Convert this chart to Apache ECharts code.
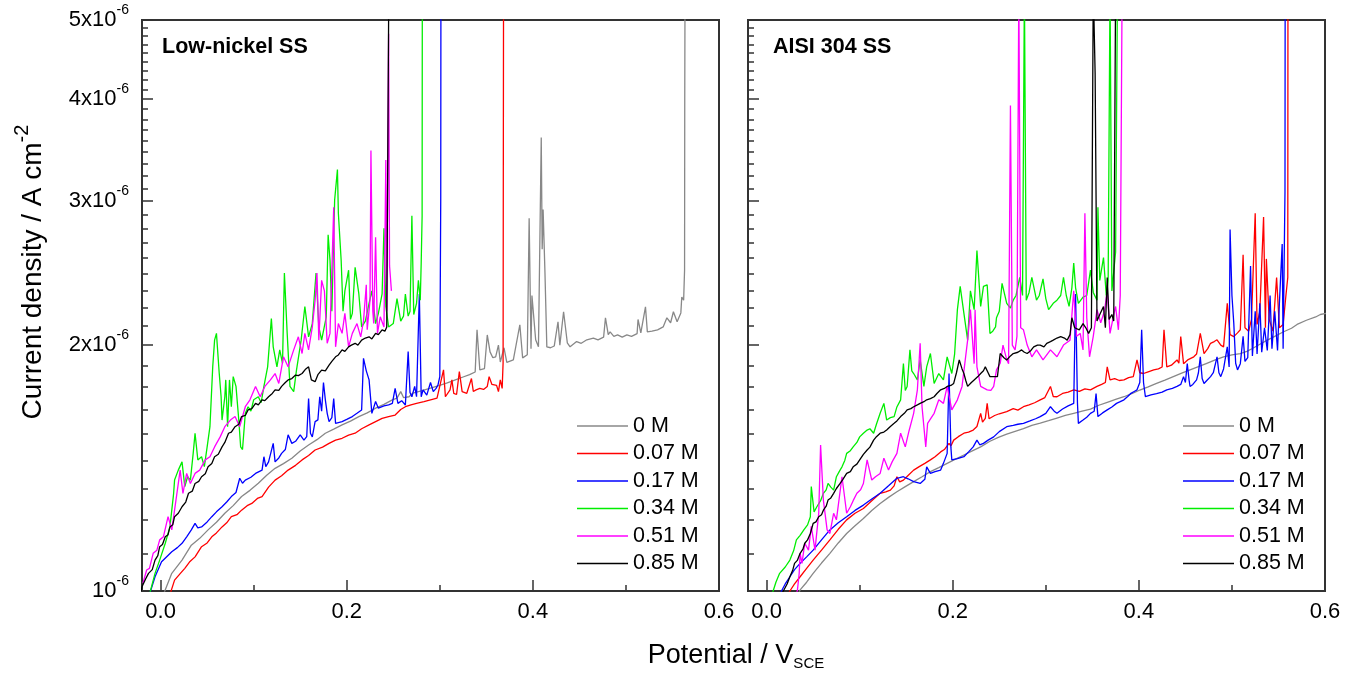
<!DOCTYPE html>
<html>
<head>
<meta charset="utf-8">
<title>Current density vs potential</title>
<script src="https://cdn.jsdelivr.net/npm/echarts@6.0.0/dist/echarts.min.js"></script>
<style>
html, body {
	margin: 0;
	padding: 0;
	background: #fff;
}

#chart {
	width: 1357px;
	height: 681px;
}
</style>
</head>
<body>
<div id="chart"></div>
<script>
// x: potential (V vs SCE), y: current density in units of 10^-6 A cm^-2
var concentrations = ['0 M', '0.07 M', '0.17 M', '0.34 M', '0.51 M', '0.85 M'];
var lineColors = ['#888888', '#ff0000', '#0000ff', '#00ee00', '#ff00ff', '#000000'];
var panelTitles = ['Low-nickel SS', 'AISI 304 SS'];
var xMajor = [0, 0.2, 0.4, 0.6];
var xMinor = [0.1, 0.3, 0.5];
var yMajor = [1, 2, 3, 4, 5];

// Low-nickel SS
var lowNi0M = [[0.003,0.99],[0.012,1.051],[0.023,1.091],[0.033,1.138],[0.042,1.160],[0.051,1.188],[0.060,1.214],[0.069,1.245],[0.078,1.272],[0.087,1.305],[0.096,1.328],[0.105,1.355],[0.114,1.386],[0.123,1.413],[0.132,1.432],[0.141,1.454],[0.150,1.484],[0.159,1.509],[0.168,1.532],[0.177,1.560],[0.186,1.578],[0.195,1.597],[0.204,1.614],[0.213,1.635],[0.222,1.652],[0.231,1.674],[0.240,1.692],[0.249,1.714],[0.254,1.722],[0.258,1.754],[0.261,1.725],[0.267,1.729],[0.271,1.747],[0.280,1.758],[0.290,1.772],[0.299,1.784],[0.308,1.798],[0.316,1.812],[0.325,1.828],[0.332,1.840],[0.338,1.854],[0.340,2.088],[0.343,1.865],[0.348,1.872],[0.351,2.058],[0.354,1.962],[0.357,1.930],[0.360,1.935],[0.363,2.0],[0.365,1.907],[0.369,1.985],[0.372,1.905],[0.379,1.918],[0.386,2.118],[0.389,1.929],[0.394,1.946],[0.396,2.86],[0.398,1.98],[0.399,2.30],[0.403,2.03],[0.406,1.99],[0.409,3.59],[0.410,2.62],[0.411,2.93],[0.413,2.45],[0.415,1.99],[0.419,1.985],[0.423,1.995],[0.427,2.136],[0.429,2.0],[0.433,2.197],[0.437,2.013],[0.440,1.99],[0.447,2.02],[0.452,2.01],[0.458,2.03],[0.465,2.04],[0.470,2.03],[0.476,2.045],[0.478,2.16],[0.481,2.06],[0.483,2.076],[0.487,2.05],[0.491,2.058],[0.496,2.045],[0.501,2.058],[0.506,2.05],[0.512,2.066],[0.513,2.15],[0.516,2.07],[0.521,2.228],[0.523,2.076],[0.528,2.08],[0.534,2.088],[0.540,2.105],[0.544,2.16],[0.548,2.13],[0.551,2.197],[0.555,2.136],[0.559,2.19],[0.560,2.29],[0.562,2.27],[0.563,2.47],[0.5632,3.99],[0.5635,5.5]];
var lowNi007M = [[0.010,0.99],[0.015,1.031],[0.021,1.050],[0.026,1.066],[0.031,1.085],[0.037,1.101],[0.044,1.133],[0.050,1.145],[0.055,1.165],[0.060,1.178],[0.066,1.198],[0.071,1.212],[0.076,1.233],[0.082,1.240],[0.087,1.256],[0.093,1.272],[0.098,1.280],[0.104,1.298],[0.109,1.305],[0.116,1.340],[0.123,1.367],[0.130,1.384],[0.137,1.406],[0.145,1.425],[0.152,1.447],[0.159,1.465],[0.166,1.488],[0.174,1.500],[0.181,1.516],[0.188,1.530],[0.195,1.538],[0.202,1.552],[0.209,1.560],[0.216,1.580],[0.224,1.597],[0.231,1.612],[0.238,1.627],[0.245,1.635],[0.252,1.642],[0.258,1.668],[0.263,1.681],[0.269,1.690],[0.275,1.697],[0.283,1.705],[0.290,1.714],[0.297,1.722],[0.304,1.865],[0.306,1.729],[0.311,1.763],[0.313,1.813],[0.315,1.745],[0.318,1.740],[0.321,1.856],[0.324,1.754],[0.329,1.746],[0.334,1.82],[0.336,1.755],[0.339,1.763],[0.343,1.77],[0.347,1.765],[0.351,1.78],[0.353,1.83],[0.356,1.79],[0.358,1.80],[0.361,1.785],[0.363,1.754],[0.365,1.813],[0.367,1.77],[0.368,1.90],[0.3682,3.0],[0.3685,5.5]];
var lowNi017M = [[-0.012,0.99],[-0.006,1.041],[0.001,1.086],[0.006,1.100],[0.012,1.117],[0.018,1.130],[0.023,1.144],[0.028,1.165],[0.033,1.188],[0.037,1.210],[0.040,1.195],[0.044,1.198],[0.050,1.215],[0.055,1.233],[0.060,1.250],[0.066,1.268],[0.071,1.285],[0.076,1.305],[0.081,1.320],[0.085,1.374],[0.088,1.355],[0.091,1.367],[0.097,1.378],[0.102,1.393],[0.109,1.406],[0.111,1.46],[0.113,1.42],[0.116,1.439],[0.121,1.516],[0.123,1.439],[0.127,1.455],[0.130,1.474],[0.134,1.49],[0.137,1.553],[0.141,1.516],[0.145,1.525],[0.150,1.553],[0.154,1.530],[0.157,1.545],[0.159,1.72],[0.161,1.56],[0.163,1.544],[0.166,1.612],[0.169,1.62],[0.171,1.729],[0.173,1.66],[0.175,1.80],[0.177,1.714],[0.179,1.65],[0.181,1.612],[0.184,1.63],[0.186,1.72],[0.188,1.604],[0.195,1.612],[0.200,1.622],[0.206,1.635],[0.211,1.650],[0.216,1.666],[0.218,1.927],[0.221,1.86],[0.224,1.813],[0.227,1.65],[0.231,1.706],[0.234,1.674],[0.240,1.685],[0.245,1.690],[0.249,1.697],[0.252,1.77],[0.255,1.697],[0.259,1.71],[0.263,1.689],[0.266,1.964],[0.268,1.75],[0.270,1.729],[0.273,1.78],[0.275,1.729],[0.278,2.31],[0.280,1.729],[0.282,1.763],[0.286,1.737],[0.290,1.80],[0.293,1.754],[0.296,1.77],[0.298,1.787],[0.300,1.83],[0.301,3.02],[0.3012,5.5]];
var lowNi034M = [[-0.012,0.99],[-0.006,1.051],[-0.001,1.091],[0.005,1.144],[0.010,1.198],[0.014,1.317],[0.015,1.367],[0.019,1.406],[0.023,1.439],[0.026,1.342],[0.029,1.38],[0.032,1.367],[0.035,1.474],[0.037,1.560],[0.040,1.447],[0.044,1.46],[0.047,1.42],[0.050,1.501],[0.053,1.589],[0.056,1.881],[0.058,2.028],[0.060,2.067],[0.063,1.846],[0.065,1.729],[0.066,1.619],[0.069,1.729],[0.070,1.813],[0.072,1.589],[0.074,1.813],[0.076,1.681],[0.078,1.83],[0.081,1.78],[0.084,1.619],[0.086,1.501],[0.088,1.49],[0.091,1.65],[0.094,1.681],[0.097,1.66],[0.100,1.714],[0.105,1.729],[0.108,1.70],[0.111,1.78],[0.115,1.881],[0.119,2.155],[0.121,1.99],[0.125,1.881],[0.128,1.973],[0.131,1.90],[0.133,2.45],[0.136,2.067],[0.139,1.78],[0.143,1.754],[0.146,1.864],[0.151,2.028],[0.155,2.23],[0.159,2.047],[0.163,2.125],[0.167,2.45],[0.170,2.105],[0.173,2.028],[0.178,2.166],[0.180,2.73],[0.182,2.54],[0.184,2.2],[0.187,3.01],[0.190,3.28],[0.191,2.90],[0.194,2.54],[0.196,2.2],[0.198,2.33],[0.202,2.47],[0.204,2.15],[0.206,2.187],[0.209,2.49],[0.213,2.31],[0.216,2.105],[0.220,2.14],[0.224,2.25],[0.227,2.33],[0.231,2.125],[0.234,2.187],[0.238,2.31],[0.240,2.78],[0.242,2.23],[0.245,2.105],[0.250,2.125],[0.254,2.28],[0.258,2.14],[0.261,2.17],[0.263,2.31],[0.266,2.17],[0.268,2.2],[0.270,2.88],[0.272,2.18],[0.275,2.25],[0.277,2.40],[0.279,2.27],[0.280,2.52],[0.281,2.88],[0.2812,5.5]];
var lowNi051M = [[-0.019,1.022],[-0.015,1.061],[-0.012,1.066],[-0.008,1.112],[-0.004,1.122],[-0.001,1.155],[0.003,1.165],[0.008,1.233],[0.012,1.188],[0.015,1.256],[0.021,1.406],[0.024,1.317],[0.028,1.393],[0.032,1.354],[0.037,1.393],[0.042,1.406],[0.048,1.447],[0.053,1.46],[0.058,1.501],[0.064,1.544],[0.069,1.589],[0.075,1.619],[0.080,1.635],[0.085,1.589],[0.091,1.681],[0.096,1.714],[0.102,1.78],[0.107,1.729],[0.112,1.78],[0.118,1.813],[0.123,1.846],[0.127,1.795],[0.132,1.935],[0.137,1.881],[0.143,1.973],[0.148,2.047],[0.152,1.953],[0.155,2.067],[0.159,1.973],[0.163,2.105],[0.166,2.27],[0.168,2.45],[0.170,2.028],[0.173,2.40],[0.176,2.33],[0.179,2.01],[0.182,2.067],[0.186,2.95],[0.188,1.99],[0.191,2.125],[0.195,2.067],[0.198,2.187],[0.202,1.99],[0.206,2.067],[0.211,2.125],[0.215,2.047],[0.218,2.14],[0.221,2.37],[0.222,2.088],[0.225,2.27],[0.226,3.46],[0.228,2.2],[0.229,2.125],[0.231,2.71],[0.233,2.067],[0.236,2.166],[0.240,2.105],[0.242,3.37],[0.243,2.2],[0.245,4.81],[0.246,2.5],[0.248,2.33]];
var lowNi085M = [[-0.021,1.0],[-0.020,1.012],[-0.016,1.035],[-0.013,1.051],[-0.009,1.062],[-0.006,1.091],[-0.003,1.105],[-0.001,1.133],[0.002,1.140],[0.005,1.165],[0.008,1.172],[0.010,1.198],[0.013,1.205],[0.015,1.233],[0.019,1.245],[0.023,1.268],[0.027,1.285],[0.030,1.317],[0.034,1.325],[0.037,1.354],[0.041,1.362],[0.044,1.380],[0.048,1.392],[0.051,1.419],[0.055,1.432],[0.058,1.46],[0.062,1.47],[0.066,1.501],[0.069,1.52],[0.073,1.560],[0.076,1.565],[0.080,1.589],[0.084,1.60],[0.087,1.635],[0.091,1.640],[0.094,1.666],[0.098,1.672],[0.102,1.697],[0.105,1.69],[0.109,1.714],[0.112,1.71],[0.116,1.729],[0.120,1.745],[0.123,1.763],[0.127,1.760],[0.130,1.78],[0.134,1.80],[0.137,1.813],[0.141,1.82],[0.145,1.838],[0.148,1.835],[0.152,1.846],[0.156,1.87],[0.159,1.881],[0.162,1.813],[0.166,1.804],[0.169,1.84],[0.173,1.864],[0.177,1.86],[0.181,1.89],[0.184,1.91],[0.188,1.935],[0.191,1.945],[0.195,1.973],[0.198,1.965],[0.202,1.99],[0.205,2.0],[0.209,2.01],[0.212,2.0],[0.216,2.028],[0.220,2.04],[0.224,2.047],[0.227,2.035],[0.231,2.067],[0.234,2.06],[0.238,2.088],[0.241,2.08],[0.243,2.105],[0.245,2.1],[0.2452,5.5]];

// AISI 304 SS
var aisi0M = [[0.034,0.99],[0.036,1.003],[0.043,1.025],[0.050,1.051],[0.059,1.082],[0.068,1.112],[0.077,1.145],[0.086,1.176],[0.095,1.202],[0.104,1.227],[0.113,1.255],[0.122,1.280],[0.131,1.302],[0.140,1.323],[0.149,1.342],[0.158,1.361],[0.167,1.380],[0.176,1.400],[0.185,1.416],[0.194,1.433],[0.203,1.450],[0.212,1.467],[0.221,1.484],[0.230,1.501],[0.240,1.525],[0.249,1.542],[0.258,1.556],[0.267,1.568],[0.276,1.580],[0.285,1.595],[0.294,1.605],[0.303,1.616],[0.312,1.628],[0.321,1.640],[0.330,1.650],[0.339,1.660],[0.348,1.670],[0.357,1.688],[0.366,1.702],[0.375,1.716],[0.384,1.729],[0.393,1.745],[0.401,1.762],[0.410,1.778],[0.419,1.795],[0.428,1.812],[0.437,1.830],[0.446,1.848],[0.455,1.865],[0.464,1.882],[0.473,1.900],[0.482,1.918],[0.491,1.935],[0.500,1.945],[0.509,1.953],[0.516,1.965],[0.522,1.981],[0.530,2.005],[0.538,2.028],[0.546,2.05],[0.555,2.075],[0.564,2.097],[0.570,2.12],[0.580,2.145],[0.590,2.165],[0.595,2.18],[0.601,2.187]];
var aisi007M = [[0.023,0.99],[0.025,1.0],[0.030,1.020],[0.036,1.041],[0.043,1.066],[0.050,1.091],[0.059,1.122],[0.068,1.155],[0.077,1.19],[0.086,1.222],[0.095,1.245],[0.104,1.262],[0.113,1.290],[0.122,1.317],[0.128,1.322],[0.133,1.329],[0.137,1.345],[0.140,1.380],[0.143,1.36],[0.147,1.367],[0.152,1.385],[0.158,1.406],[0.164,1.42],[0.170,1.433],[0.176,1.447],[0.181,1.46],[0.187,1.480],[0.191,1.49],[0.196,1.516],[0.198,1.505],[0.201,1.530],[0.206,1.545],[0.212,1.560],[0.217,1.565],[0.222,1.574],[0.226,1.59],[0.230,1.65],[0.232,1.61],[0.235,1.627],[0.237,1.697],[0.239,1.625],[0.240,1.619],[0.245,1.64],[0.250,1.648],[0.258,1.658],[0.265,1.672],[0.270,1.665],[0.276,1.681],[0.282,1.69],[0.288,1.70],[0.294,1.714],[0.299,1.725],[0.305,1.78],[0.308,1.73],[0.312,1.729],[0.318,1.745],[0.324,1.752],[0.330,1.763],[0.336,1.755],[0.342,1.768],[0.348,1.763],[0.355,1.78],[0.360,1.79],[0.364,1.80],[0.366,1.881],[0.369,1.813],[0.374,1.82],[0.379,1.81],[0.384,1.813],[0.389,1.825],[0.394,1.83],[0.398,1.918],[0.401,1.85],[0.405,1.846],[0.410,1.855],[0.416,1.865],[0.421,1.87],[0.425,1.88],[0.427,2.088],[0.430,1.881],[0.435,1.89],[0.441,1.918],[0.443,1.9],[0.445,2.048],[0.448,1.898],[0.453,1.92],[0.459,1.935],[0.462,1.95],[0.466,2.067],[0.470,1.953],[0.474,1.98],[0.477,2.01],[0.481,2.02],[0.484,2.03],[0.488,2.0],[0.491,1.99],[0.495,2.25],[0.498,2.06],[0.502,2.048],[0.506,2.07],[0.509,2.088],[0.512,2.58],[0.514,2.1],[0.518,2.08],[0.521,2.15],[0.525,2.90],[0.527,2.12],[0.530,2.2],[0.534,2.87],[0.536,2.1],[0.537,2.55],[0.540,2.15],[0.544,2.08],[0.548,2.42],[0.551,2.1],[0.555,2.12],[0.558,2.3],[0.560,2.42],[0.5602,5.5]];
var aisi017M = [[0.014,0.99],[0.016,1.0],[0.020,1.02],[0.025,1.041],[0.030,1.062],[0.036,1.081],[0.043,1.101],[0.050,1.122],[0.059,1.155],[0.068,1.188],[0.077,1.212],[0.086,1.233],[0.095,1.255],[0.104,1.274],[0.113,1.296],[0.122,1.317],[0.131,1.345],[0.140,1.374],[0.147,1.380],[0.152,1.372],[0.158,1.361],[0.165,1.354],[0.170,1.37],[0.172,1.419],[0.176,1.393],[0.181,1.40],[0.187,1.406],[0.190,1.433],[0.194,1.474],[0.196,1.846],[0.198,1.50],[0.199,1.447],[0.205,1.452],[0.212,1.46],[0.217,1.48],[0.222,1.501],[0.226,1.530],[0.229,1.51],[0.233,1.516],[0.238,1.53],[0.244,1.544],[0.250,1.567],[0.258,1.589],[0.265,1.595],[0.270,1.60],[0.276,1.604],[0.283,1.615],[0.289,1.625],[0.294,1.635],[0.300,1.65],[0.305,1.681],[0.309,1.66],[0.312,1.65],[0.318,1.67],[0.324,1.685],[0.330,1.697],[0.332,2.31],[0.334,1.70],[0.335,1.604],[0.340,1.619],[0.344,1.632],[0.348,1.65],[0.352,1.66],[0.354,1.744],[0.356,1.635],[0.361,1.652],[0.366,1.666],[0.371,1.68],[0.376,1.697],[0.380,1.705],[0.384,1.714],[0.388,1.73],[0.391,1.744],[0.395,1.755],[0.398,1.763],[0.401,1.80],[0.403,2.088],[0.405,1.80],[0.407,1.729],[0.413,1.738],[0.419,1.744],[0.425,1.752],[0.430,1.763],[0.436,1.77],[0.441,1.78],[0.445,1.79],[0.448,1.83],[0.450,1.80],[0.452,1.898],[0.454,1.81],[0.455,1.78],[0.458,1.79],[0.462,1.813],[0.464,1.85],[0.466,1.935],[0.468,1.82],[0.470,1.795],[0.473,1.81],[0.477,1.83],[0.480,1.85],[0.484,1.935],[0.486,1.85],[0.488,1.83],[0.491,1.87],[0.495,1.99],[0.497,1.88],[0.498,2.77],[0.500,2.3],[0.502,2.125],[0.504,1.9],[0.506,1.865],[0.509,1.898],[0.512,2.05],[0.514,1.91],[0.517,1.93],[0.520,2.50],[0.522,1.94],[0.525,2.2],[0.527,1.95],[0.530,2.25],[0.532,1.96],[0.535,2.1],[0.538,1.97],[0.541,2.3],[0.543,1.98],[0.546,2.2],[0.549,1.97],[0.551,2.25],[0.554,2.66],[0.555,1.98],[0.557,3.08],[0.5572,5.5]];
var aisi034M = [[0.005,0.99],[0.007,1.0],[0.010,1.025],[0.014,1.051],[0.020,1.07],[0.025,1.091],[0.029,1.12],[0.032,1.155],[0.036,1.17],[0.040,1.188],[0.044,1.205],[0.047,1.233],[0.048,1.342],[0.051,1.25],[0.054,1.268],[0.058,1.29],[0.061,1.317],[0.064,1.33],[0.066,1.354],[0.069,1.34],[0.072,1.329],[0.075,1.380],[0.078,1.40],[0.081,1.419],[0.084,1.445],[0.086,1.474],[0.090,1.485],[0.093,1.501],[0.097,1.52],[0.100,1.544],[0.104,1.56],[0.108,1.574],[0.111,1.58],[0.115,1.560],[0.118,1.60],[0.122,1.65],[0.126,1.697],[0.129,1.619],[0.133,1.63],[0.137,1.635],[0.140,1.68],[0.144,1.714],[0.147,1.898],[0.149,1.76],[0.151,1.78],[0.154,1.973],[0.156,1.86],[0.158,1.846],[0.162,1.813],[0.165,1.918],[0.169,1.78],[0.172,1.881],[0.176,1.953],[0.180,1.795],[0.185,1.846],[0.190,1.813],[0.194,1.935],[0.199,1.846],[0.202,1.95],[0.205,2.21],[0.208,2.36],[0.212,2.187],[0.216,2.028],[0.219,2.33],[0.223,2.21],[0.226,2.61],[0.230,2.23],[0.233,2.36],[0.237,2.37],[0.240,2.067],[0.243,2.08],[0.246,2.105],[0.247,2.16],[0.250,2.2],[0.253,2.38],[0.258,2.25],[0.262,2.22],[0.265,2.27],[0.268,2.3],[0.272,2.42],[0.275,2.3],[0.277,5.5],[0.279,2.27],[0.282,2.32],[0.285,2.42],[0.290,2.27],[0.293,2.3],[0.297,2.41],[0.300,2.28],[0.303,2.21],[0.308,2.25],[0.312,2.27],[0.316,2.3],[0.319,2.42],[0.322,2.3],[0.325,2.23],[0.328,2.35],[0.330,2.52],[0.332,2.35],[0.335,2.25],[0.340,2.29],[0.344,2.3],[0.348,2.47],[0.351,2.32],[0.355,2.27],[0.356,2.95],[0.358,2.4],[0.362,2.56],[0.365,2.3],[0.367,2.4],[0.369,5.5],[0.371,2.33],[0.373,2.33],[0.375,2.6],[0.377,5.5]];
var aisi051M = [[0.031,0.99],[0.033,1.0],[0.035,1.051],[0.036,1.112],[0.038,1.081],[0.041,1.144],[0.045,1.122],[0.048,1.2],[0.052,1.122],[0.056,1.245],[0.058,1.509],[0.061,1.292],[0.065,1.188],[0.068,1.176],[0.072,1.245],[0.075,1.222],[0.081,1.380],[0.086,1.245],[0.090,1.268],[0.093,1.29],[0.097,1.317],[0.101,1.33],[0.104,1.354],[0.108,1.447],[0.113,1.367],[0.117,1.38],[0.122,1.393],[0.126,1.454],[0.131,1.406],[0.135,1.44],[0.140,1.474],[0.144,1.560],[0.149,1.501],[0.153,1.57],[0.158,1.65],[0.162,1.763],[0.165,2.01],[0.167,1.681],[0.171,1.501],[0.173,1.604],[0.177,1.63],[0.180,1.65],[0.185,1.714],[0.190,1.697],[0.194,1.78],[0.199,1.666],[0.205,1.714],[0.210,1.78],[0.216,2.028],[0.219,2.21],[0.223,1.898],[0.224,2.21],[0.226,1.881],[0.230,1.78],[0.234,1.77],[0.237,1.763],[0.241,1.76],[0.244,1.78],[0.247,1.865],[0.251,1.9],[0.254,2.0],[0.258,1.92],[0.260,1.898],[0.262,3.93],[0.264,2.0],[0.267,1.973],[0.269,2.05],[0.271,5.5],[0.273,2.1],[0.276,2.088],[0.280,2.0],[0.285,1.935],[0.290,1.973],[0.297,1.918],[0.305,1.973],[0.312,1.935],[0.319,2.0],[0.326,2.028],[0.330,2.33],[0.333,2.05],[0.337,2.067],[0.340,1.973],[0.342,2.9],[0.344,2.16],[0.347,1.935],[0.351,2.05],[0.355,2.21],[0.359,2.13],[0.363,2.2],[0.366,2.33],[0.369,2.067],[0.372,2.15],[0.375,2.23],[0.378,2.088],[0.380,2.3],[0.382,5.5]];
var aisi085M = [[0.016,0.99],[0.018,1.0],[0.022,1.02],[0.025,1.041],[0.028,1.06],[0.030,1.081],[0.033,1.09],[0.036,1.112],[0.039,1.125],[0.041,1.144],[0.044,1.155],[0.047,1.176],[0.050,1.210],[0.053,1.215],[0.056,1.233],[0.059,1.24],[0.061,1.256],[0.064,1.27],[0.066,1.292],[0.069,1.30],[0.072,1.317],[0.075,1.335],[0.079,1.354],[0.082,1.37],[0.086,1.393],[0.090,1.40],[0.093,1.419],[0.097,1.43],[0.100,1.447],[0.104,1.47],[0.108,1.488],[0.111,1.50],[0.115,1.530],[0.118,1.545],[0.122,1.560],[0.126,1.565],[0.129,1.574],[0.133,1.59],[0.137,1.604],[0.140,1.615],[0.144,1.635],[0.148,1.65],[0.151,1.666],[0.155,1.672],[0.158,1.681],[0.162,1.69],[0.165,1.697],[0.169,1.705],[0.172,1.714],[0.176,1.72],[0.180,1.729],[0.183,1.745],[0.187,1.763],[0.191,1.77],[0.194,1.78],[0.198,1.785],[0.201,1.795],[0.204,1.85],[0.207,1.918],[0.210,1.87],[0.212,1.846],[0.214,1.81],[0.216,1.78],[0.220,1.80],[0.223,1.813],[0.227,1.83],[0.230,1.846],[0.233,1.86],[0.235,1.881],[0.238,1.85],[0.240,1.83],[0.244,1.83],[0.248,1.83],[0.251,1.953],[0.255,1.93],[0.258,1.918],[0.262,1.94],[0.265,1.953],[0.270,1.96],[0.274,1.973],[0.277,1.96],[0.280,1.953],[0.284,1.97],[0.287,1.99],[0.291,2.0],[0.294,2.0],[0.298,1.99],[0.301,2.01],[0.305,2.02],[0.308,2.028],[0.312,2.04],[0.316,2.048],[0.320,2.04],[0.323,2.028],[0.326,2.06],[0.328,2.16],[0.331,2.1],[0.336,2.088],[0.340,2.125],[0.343,2.1],[0.346,2.067],[0.349,2.1],[0.351,5.5],[0.353,4.3],[0.355,2.14],[0.358,2.18],[0.362,2.23],[0.364,2.1],[0.366,2.42],[0.368,2.15],[0.371,2.18],[0.373,2.14],[0.375,5.5]];

var panelData = [
	[lowNi0M, lowNi007M, lowNi017M, lowNi034M, lowNi051M, lowNi085M],
	[aisi0M, aisi007M, aisi017M, aisi034M, aisi051M, aisi085M]
];

var FONT = '"Liberation Sans", Arial, sans-serif';
var AXIS_COLOR = '#333';

// minor ticks: 8 per major step, evenly spaced in value (as in the original plot)
var yMinor = [];
for (var i = 0; i < yMajor.length - 1; i++) {
	for (var j = 1; j < 9; j++) {
		yMinor.push(yMajor[i] + j * (yMajor[i + 1] - yMajor[i]) / 9);
	}
}
// tick axes are linear in log10(value), laid over the log data axis
var yTop = Math.log10(yMajor[yMajor.length - 1]);
var yMajorPos = yMajor.map(function (v) { return Math.log10(v); });
var yMinorPos = yMinor.map(function (v) { return Math.log10(v); });

var grids = [
	{ left: 142, top: 20, width: 577, height: 571 },
	{ left: 748, top: 20, width: 577, height: 571 }
];
grids.forEach(function (g) {
	g.show = true;
	g.borderColor = AXIS_COLOR;
	g.borderWidth = 2;
	g.backgroundColor = 'transparent';
});

var xAxes = [];
var yAxes = [];
var series = [];

function tickAxisX(g, values, len, withLabels) {
	return {
		gridIndex: g, type: 'value', position: 'bottom', min: -0.02, max: 0.6,
		axisLine: { show: false, onZero: false },
		splitLine: { show: false },
		axisTick: { show: true, inside: true, length: len, customValues: values,
			lineStyle: { color: AXIS_COLOR, width: 1.5 } },
		axisLabel: { show: withLabels, customValues: values, margin: 10,
			fontSize: 22, fontFamily: FONT, color: '#000',
			formatter: function (v) { return v.toFixed(1); } }
	};
}

function tickAxisY(g, values, len, withLabels) {
	return {
		gridIndex: g, type: 'value', position: 'left', min: 0, max: yTop,
		axisLine: { show: false, onZero: false },
		splitLine: { show: false },
		axisTick: { show: true, inside: true, length: len, customValues: values,
			lineStyle: { color: AXIS_COLOR, width: 1.5 } },
		axisLabel: {
			show: withLabels, customValues: values, margin: 13,
			formatter: function (v) {
				var k = Math.round(Math.pow(10, v));
				return k === 1 ? '{m|10}{s|-6}' : '{m|' + k + 'x10}{s|-6}';
			},
			rich: {
				m: { fontSize: 22, fontFamily: FONT, color: '#000' },
				s: { fontSize: 14, fontFamily: FONT, color: '#000', padding: [0, 0, 20, 0] }
			}
		}
	};
}

for (var p = 0; p < 2; p++) {
	xAxes.push(tickAxisX(p, xMajor, 11, true));
	xAxes.push(tickAxisX(p, xMinor, 6, false));
	// data axis
	yAxes.push({ gridIndex: p, type: 'log', logBase: 10, min: 1, max: 5, show: false,
		axisLine: { onZero: false } });
	yAxes.push(tickAxisY(p, yMajorPos, 11, p === 0));
	yAxes.push(tickAxisY(p, yMinorPos, 6, false));

	for (var s = 0; s < concentrations.length; s++) {
		series.push({
			name: concentrations[s],
			type: 'line',
			xAxisIndex: p * 2,
			yAxisIndex: p * 3,
			data: panelData[p][s],
			symbol: 'none',
			clip: true,
			color: lineColors[s],
			lineStyle: { width: 1.3, color: lineColors[s] }
		});
	}
}

var legends = [577, 1183].map(function (x) {
	return {
		data: concentrations,
		orient: 'vertical',
		left: x,
		top: 415,
		padding: 0,
		icon: 'rect',
		itemWidth: 51,
		itemHeight: 1.5,
		itemGap: 5.5,
		selectedMode: false,
		textStyle: { fontSize: 21.5, fontFamily: FONT, color: '#000' }
	};
});

var titles = panelTitles.map(function (t, k) {
	return {
		text: t,
		left: k === 0 ? 162 : 773,
		top: 36.5,
		padding: 0,
		textStyle: { fontSize: 21.5, fontWeight: 'bold', fontFamily: FONT, color: '#000' }
	};
});

var chart = echarts.init(document.getElementById('chart'));
chart.setOption({
	animation: false,
	backgroundColor: '#fff',
	title: titles,
	legend: legends,
	grid: grids,
	xAxis: xAxes,
	yAxis: yAxes,
	series: series,
	graphic: [
		{
			type: 'text',
			x: 736,
			y: 656,
			style: {
				text: '{m|Potential / V}{s|SCE}',
				align: 'center',
				verticalAlign: 'middle',
				fill: '#000',
				rich: {
					m: { fontSize: 27, fontFamily: FONT, fill: '#000' },
					s: { fontSize: 15, fontFamily: FONT, fill: '#000', padding: [16, 0, 0, 0] }
				}
			}
		},
		{
			type: 'text',
			x: 33,
			y: 272,
			rotation: Math.PI / 2,
			style: {
				text: '{m|Current density / A cm}{s|-2}',
				align: 'center',
				verticalAlign: 'middle',
				fill: '#000',
				rich: {
					m: { fontSize: 28, fontFamily: FONT, fill: '#000' },
					s: { fontSize: 20, fontFamily: FONT, fill: '#000', padding: [0, 0, 21, 0] }
				}
			}
		}
	]
});
</script>
</body>
</html>
